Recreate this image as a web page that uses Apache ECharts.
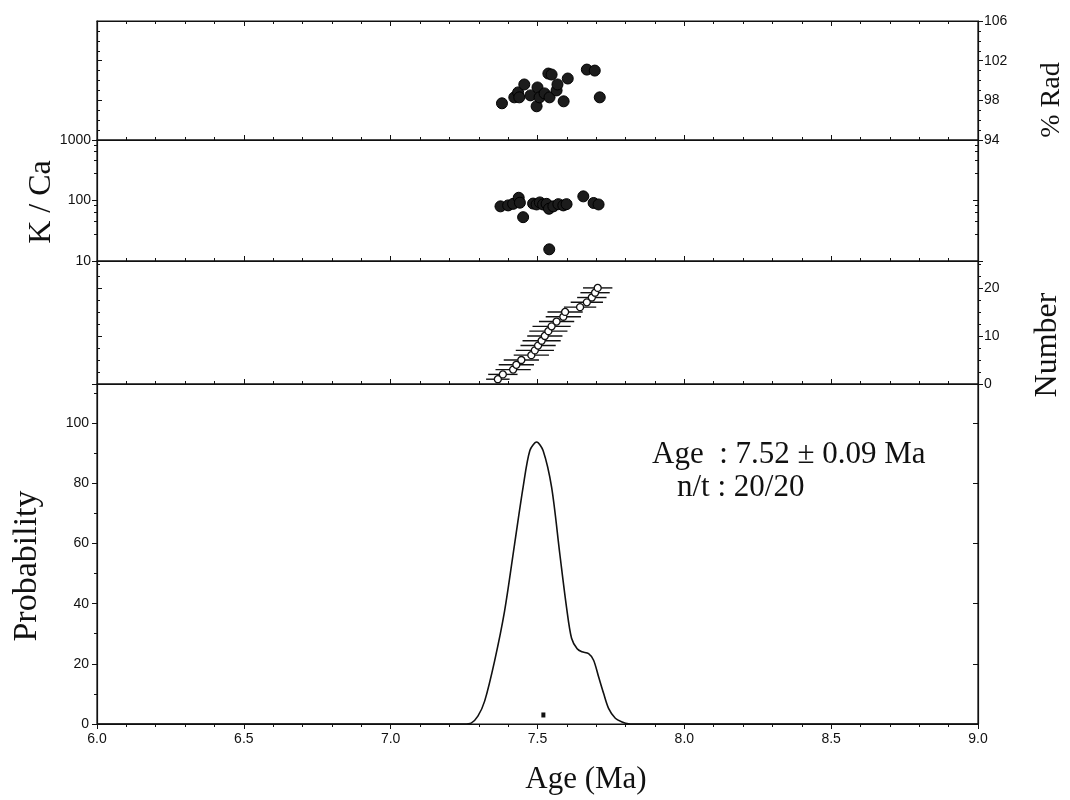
<!DOCTYPE html>
<html>
<head>
<meta charset="utf-8">
<title>Age spectrum</title>
<script src="https://cdn.jsdelivr.net/npm/echarts@6/dist/echarts.min.js"></script>
<style>
  html, body { margin: 0; padding: 0; background: #fff; }
  #chart { width: 1070px; height: 800px; }
</style>
</head>
<body>
<div id="chart"></div>
<script>
// %Rad per grain
const radAges = [7.379, 7.421, 7.434, 7.438, 7.455, 7.476, 7.497, 7.500, 7.507, 7.524, 7.537, 7.541, 7.548, 7.565, 7.568, 7.589, 7.603, 7.668, 7.695, 7.712];
const radPct = [97.7, 98.3, 98.8, 98.3, 99.6, 98.5, 97.4, 99.3, 98.3, 98.7, 100.7, 98.3, 100.6, 99.0, 99.6, 97.9, 100.2, 101.1, 101.0, 98.3];

// K/Ca per grain
const kcaAges = [7.374, 7.400, 7.417, 7.436, 7.440, 7.451, 7.485, 7.497, 7.508, 7.519, 7.531, 7.539, 7.540, 7.554, 7.571, 7.588, 7.599, 7.656, 7.691, 7.708];
const kcaValues = [80, 83, 88, 111, 92, 53, 89, 86, 93, 86, 88, 73, 15.6, 80, 87, 83, 87, 117, 91, 86];

// ranked ages with 1 sigma
const rankAges = [7.365, 7.382, 7.417, 7.428, 7.445, 7.479, 7.491, 7.502, 7.514, 7.525, 7.537, 7.548, 7.565, 7.588, 7.594, 7.645, 7.668, 7.685, 7.696, 7.705];
const rankNumbers = [1, 2, 3, 4, 5, 6, 7, 8, 9, 10, 11, 12, 13, 14, 15, 16, 17, 18, 19, 20];
const rankErrors = [0.04, 0.05, 0.06, 0.06, 0.06, 0.06, 0.065, 0.06, 0.065, 0.06, 0.065, 0.065, 0.06, 0.06, 0.06, 0.055, 0.055, 0.05, 0.05, 0.05];

// probability density curve
const probAges = [6.0, 7.25, 7.274, 7.297, 7.320, 7.354, 7.388, 7.422, 7.451, 7.474, 7.497, 7.519, 7.548, 7.576, 7.599, 7.616, 7.635, 7.651, 7.674, 7.691, 7.708, 7.725, 7.742, 7.765, 7.788, 7.81, 7.85, 9.0];
const probValues = [0, 0, 0.3, 2.6, 7.6, 21, 37.6, 59.8, 78.7, 90.9, 93.7, 90.9, 78.7, 56.5, 38.7, 28.5, 25, 24, 23.4, 21.2, 15.7, 10.2, 5.2, 1.9, 0.7, 0.1, 0, 0];

const meanAge = 7.52;
const meanMark = 3;

const ageTicks = ['6.0', '6.5', '7.0', '7.5', '8.0', '8.5', '9.0'];

const chart = echarts.init(document.getElementById('chart'));

const ink = '#111';
const sans = 'Liberation Sans, Arial, sans-serif';
const serif = 'Liberation Serif, Times New Roman, serif';

const panels = [
  { top: 21, height: 119 },
  { top: 140, height: 121 },
  { top: 261, height: 123 },
  { top: 384, height: 340 },
];

function xAxisFor(gridIndex, opts) {
  return Object.assign({
    type: 'value',
    gridIndex,
    min: 6,
    max: 9,
    interval: 0.5,
    axisLine: { show: true, lineStyle: { color: ink, width: 1.2 } },
    axisTick: { show: true, inside: true, length: 5, lineStyle: { color: ink } },
    minorTick: { show: true, splitNumber: 5, length: 3, lineStyle: { color: ink } },
    axisLabel: { show: false },
    splitLine: { show: false },
  }, opts);
}

function yAxisFor(gridIndex, position, opts, showLabel) {
  return Object.assign({
    type: 'value',
    gridIndex,
    position,
    axisLine: { show: true, lineStyle: { color: ink, width: 1.2 } },
    axisTick: { show: true, inside: !showLabel, length: 5, lineStyle: { color: ink } },
    minorTick: { show: true, splitNumber: 4, length: 3, lineStyle: { color: ink } },
    axisLabel: { show: !!showLabel, color: ink, fontFamily: sans, fontSize: 14, margin: 6 },
    splitLine: { show: false },
  }, opts);
}

const logMinor = { show: true, splitNumber: 5, length: 3, lineStyle: { color: ink } };

const option = {
  backgroundColor: '#fff',
  animation: false,
  grid: panels.map((p) => ({
    left: 97,
    right: 92,
    top: p.top,
    height: p.height,
    show: true,
    borderColor: ink,
    borderWidth: 1.2,
  })),
  xAxis: [
    xAxisFor(0, {}),
    xAxisFor(1, {}),
    xAxisFor(2, {}),
    xAxisFor(3, {
      axisTick: { show: true, inside: false, length: 5, lineStyle: { color: ink } },
      axisLabel: {
        show: true,
        color: ink,
        fontFamily: sans,
        fontSize: 14,
        margin: 8,
        formatter: (v) => ageTicks[Math.round((v - 6) / 0.5)] || '',
      },
    }),
    xAxisFor(0, { position: 'top' }),
  ],
  yAxis: [
    yAxisFor(0, 'right', { min: 94, max: 106, interval: 4 }, true),
    yAxisFor(0, 'left', { min: 94, max: 106, interval: 4 }, false),
    yAxisFor(1, 'left', {
      type: 'log', logBase: 10, min: 10, max: 1000, minorTick: logMinor,
      axisLabel: { show: true, color: ink, fontFamily: sans, fontSize: 14, margin: 6, formatter: (v) => String(Math.round(v)) },
    }, true),
    yAxisFor(1, 'right', { type: 'log', logBase: 10, min: 10, max: 1000, minorTick: logMinor }, false),
    yAxisFor(2, 'right', {
      min: 0, max: 25.6, interval: 10,
      axisLabel: { show: true, color: ink, fontFamily: sans, fontSize: 14, margin: 6, formatter: (v) => (v % 10 === 0 ? v : '') },
    }, true),
    yAxisFor(2, 'left', { min: 0, max: 25.6, interval: 10 }, false),
    yAxisFor(3, 'left', {
      min: 0, max: 113, interval: 20,
      minorTick: { show: true, splitNumber: 2, length: 3, lineStyle: { color: ink } },
      axisLabel: { show: true, color: ink, fontFamily: sans, fontSize: 14, margin: 8, formatter: (v) => (v % 20 === 0 ? v : '') },
    }, true),
    yAxisFor(3, 'right', { min: 0, max: 113, interval: 20, minorTick: { show: false } }, false),
  ],
  series: [
    {
      name: '% Rad',
      type: 'scatter',
      xAxisIndex: 0,
      yAxisIndex: 0,
      symbolSize: 11,
      itemStyle: { color: '#1c1c1c', borderColor: '#000', borderWidth: 1, opacity: 1 },
      data: radAges.map((a, i) => [a, radPct[i]]),
    },
    {
      name: 'K / Ca',
      type: 'scatter',
      xAxisIndex: 1,
      yAxisIndex: 2,
      symbolSize: 11,
      itemStyle: { color: '#1c1c1c', borderColor: '#000', borderWidth: 1, opacity: 1 },
      data: kcaAges.map((a, i) => [a, kcaValues[i]]),
    },
    {
      name: 'errors',
      type: 'custom',
      xAxisIndex: 2,
      yAxisIndex: 4,
      renderItem(params, api) {
        const y = api.value(1);
        const p1 = api.coord([api.value(0) - api.value(2), y]);
        const p2 = api.coord([api.value(0) + api.value(2), y]);
        return {
          type: 'line',
          shape: { x1: p1[0], y1: p1[1], x2: p2[0], y2: p2[1] },
          style: { stroke: ink, lineWidth: 1.4 },
        };
      },
      data: rankAges.map((a, i) => [a, rankNumbers[i], rankErrors[i]]),
    },
    {
      name: 'Number',
      type: 'scatter',
      xAxisIndex: 2,
      yAxisIndex: 4,
      symbolSize: 7,
      itemStyle: { color: '#fff', borderColor: ink, borderWidth: 1.3, opacity: 1 },
      data: rankAges.map((a, i) => [a, rankNumbers[i]]),
    },
    {
      name: 'Probability',
      type: 'line',
      xAxisIndex: 3,
      yAxisIndex: 6,
      smooth: 0.3,
      showSymbol: false,
      lineStyle: { color: ink, width: 1.6 },
      data: probAges.map((a, i) => [a, probValues[i]]),
    },
    {
      name: 'mean',
      type: 'scatter',
      xAxisIndex: 3,
      yAxisIndex: 6,
      symbol: 'rect',
      symbolSize: [4, 5],
      itemStyle: { color: ink, opacity: 1 },
      data: [[meanAge, meanMark]],
    },
  ],
  graphic: [
    { type: 'text', x: 1052, y: 100, rotation: Math.PI / 2, style: { text: '% Rad', font: '28px ' + serif, fill: ink, align: 'center', verticalAlign: 'middle' } },
    { type: 'text', x: 42, y: 202, rotation: Math.PI / 2, style: { text: 'K / Ca', font: '32px ' + serif, fill: ink, align: 'center', verticalAlign: 'middle' } },
    { type: 'text', x: 1048, y: 345, rotation: Math.PI / 2, style: { text: 'Number', font: '32px ' + serif, fill: ink, align: 'center', verticalAlign: 'middle' } },
    { type: 'text', x: 27, y: 566, rotation: Math.PI / 2, style: { text: 'Probability', font: '34px ' + serif, fill: ink, align: 'center', verticalAlign: 'middle' } },
    { type: 'text', x: 586, y: 780, style: { text: 'Age (Ma)', font: '31px ' + serif, fill: ink, align: 'center', verticalAlign: 'middle' } },
    { type: 'text', x: 652, y: 455, style: { text: 'Age  : 7.52 \u00b1 0.09 Ma', font: '31px ' + serif, fill: ink, align: 'left', verticalAlign: 'middle' } },
    { type: 'text', x: 677, y: 488, style: { text: 'n/t : 20/20', font: '31px ' + serif, fill: ink, align: 'left', verticalAlign: 'middle' } },
  ],
};

chart.setOption(option);
</script>
</body>
</html>
